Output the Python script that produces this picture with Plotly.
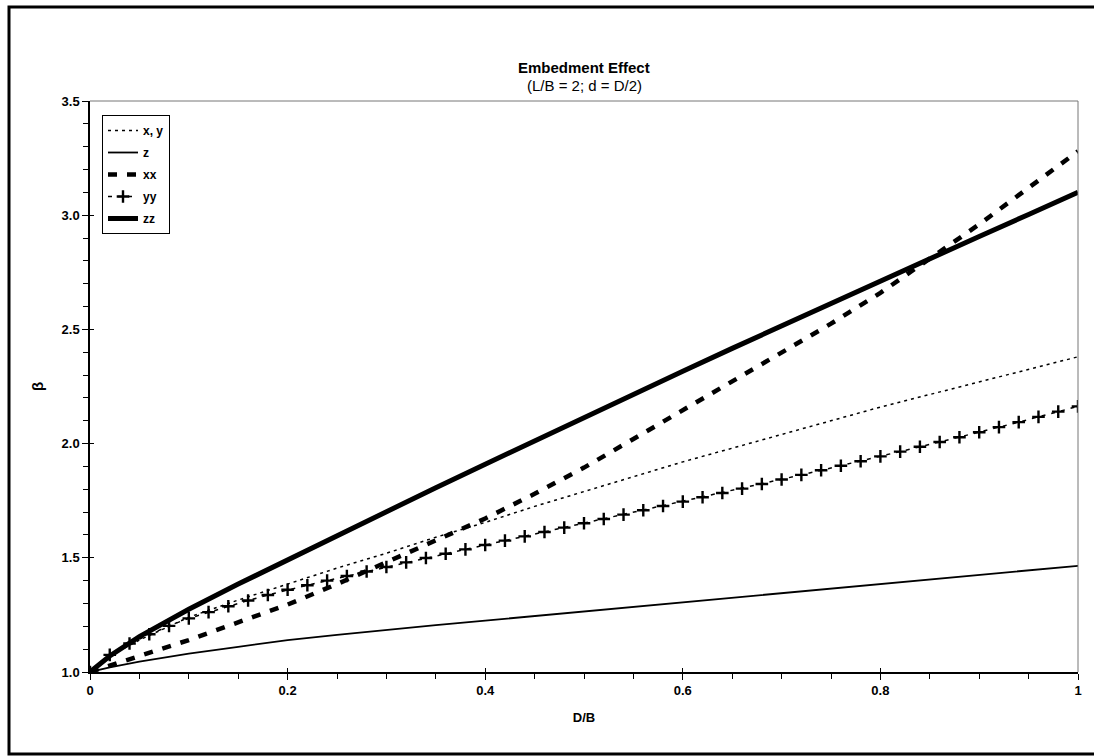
import plotly.graph_objects as go

# D/B grid for line series
x_line = [0, 0.02, 0.05, 0.1, 0.15, 0.2, 0.25, 0.3, 0.35, 0.4, 0.45, 0.5,
          0.55, 0.6, 0.65, 0.7, 0.75, 0.8, 0.85, 0.9, 0.95, 1.0]
beta_xy = [1.0, 1.07, 1.14, 1.24, 1.315, 1.385, 1.455, 1.52, 1.59, 1.655, 1.725, 1.79,
           1.855, 1.92, 1.98, 2.04, 2.10, 2.16, 2.215, 2.27, 2.325, 2.38]
beta_z = [1.0, 1.02, 1.045, 1.08, 1.11, 1.14, 1.163, 1.185, 1.205, 1.225, 1.245, 1.265,
          1.285, 1.305, 1.325, 1.345, 1.365, 1.385, 1.405, 1.425, 1.445, 1.465]
beta_xx = [1.0, 1.03, 1.07, 1.14, 1.215, 1.295, 1.385, 1.48, 1.575, 1.672, 1.78, 1.895,
           2.02, 2.145, 2.27, 2.395, 2.525, 2.66, 2.81, 2.96, 3.12, 3.28]
beta_zz = [1.0, 1.07, 1.155, 1.275, 1.385, 1.492, 1.598, 1.703, 1.807, 1.91, 2.013, 2.115,
           2.216, 2.317, 2.417, 2.516, 2.614, 2.712, 2.81, 2.907, 3.003, 3.10]

# yy series with markers every 0.02
x_yy = [0.00, 0.02, 0.04, 0.06, 0.08, 0.10, 0.12, 0.14, 0.16, 0.18, 0.20,
        0.22, 0.24, 0.26, 0.28, 0.30, 0.32, 0.34, 0.36, 0.38, 0.40,
        0.42, 0.44, 0.46, 0.48, 0.50, 0.52, 0.54, 0.56, 0.58, 0.60,
        0.62, 0.64, 0.66, 0.68, 0.70, 0.72, 0.74, 0.76, 0.78, 0.80,
        0.82, 0.84, 0.86, 0.88, 0.90, 0.92, 0.94, 0.96, 0.98, 1.00]
beta_yy = [1.000, 1.075, 1.125, 1.165, 1.202, 1.235, 1.262, 1.288, 1.313, 1.337, 1.360,
           1.380, 1.400, 1.420, 1.440, 1.460, 1.480, 1.499, 1.518, 1.537, 1.556,
           1.575, 1.594, 1.613, 1.632, 1.651, 1.670, 1.689, 1.708, 1.727, 1.746,
           1.765, 1.784, 1.803, 1.823, 1.843, 1.863, 1.883, 1.903, 1.923, 1.944,
           1.965, 1.986, 2.007, 2.028, 2.050, 2.072, 2.094, 2.117, 2.140, 2.163]

x_ticks = [0, 0.2, 0.4, 0.6, 0.8, 1]
x_ticktext = ["0", "0.2", "0.4", "0.6", "0.8", "1"]
y_ticks = [1.0, 1.5, 2.0, 2.5, 3.0, 3.5]

FONT = "Liberation Sans, Arial, sans-serif"

fig = go.Figure()
fig.add_trace(go.Scatter(x=x_line, y=beta_xy, mode="lines", name="x, y", legendgroup="a",
                         line=dict(color="black", width=1.5, dash="3px,4px")))
fig.add_trace(go.Scatter(x=x_line, y=beta_z, mode="lines", name="z", legendgroup="b",
                         line=dict(color="black", width=1.8)))
fig.add_trace(go.Scatter(x=x_line, y=beta_xx, mode="lines", name="xx", legendgroup="c",
                         line=dict(color="black", width=4.5, dash="9px,10px")))
fig.add_trace(go.Scatter(x=x_yy, y=beta_yy, mode="lines+markers", name="yy", legendgroup="d",
                         line=dict(color="black", width=1.5, dash="4px,6px"),
                         marker=dict(symbol="cross-thin", size=9,
                                     line=dict(color="black", width=2.4))))
fig.add_trace(go.Scatter(x=x_line, y=beta_zz, mode="lines", name="zz", legendgroup="e",
                         line=dict(color="black", width=5)))
# invisible trace to activate overlay axes for inside ticks
fig.add_trace(go.Scatter(x=[0], y=[1.0], xaxis="x2", yaxis="y2", mode="markers",
                         marker=dict(opacity=0), showlegend=False, hoverinfo="skip"))

L, R, T, B = 90, 16, 101, 84
W, H = 1094, 756
pw, ph = W - L - R, H - T - B

def px2x(p):
    return (p - L) / pw

def py2y(p):
    return (H - B - p) / ph

fig.update_layout(
    width=W, height=H,
    margin=dict(l=L, r=R, t=T, b=B),
    paper_bgcolor="white", plot_bgcolor="white",
    font=dict(family=FONT, color="black", size=12),
    showlegend=True,
    legend=dict(x=px2x(102), y=py2y(115), xanchor="left", yanchor="top",
                bgcolor="white", bordercolor="black", borderwidth=1,
                font=dict(family=FONT, size=12, weight="bold"),
                tracegroupgap=3),
    xaxis=dict(range=[0, 1], tickvals=x_ticks, ticktext=x_ticktext,
               showgrid=False, zeroline=False, showline=True,
               linecolor="black", linewidth=1.5,
               ticks="outside", ticklen=6, tickcolor="black", tickwidth=1,
               minor=dict(dtick=0.05, ticks="outside", ticklen=5, tickcolor="black"),
               tickfont=dict(family=FONT, size=13, weight="bold"),
               title=dict(text="<b>D/B</b>", font=dict(family=FONT, size=13), standoff=16)),
    yaxis=dict(range=[1.0, 3.5], tickvals=y_ticks, tickformat=".1f",
               showgrid=False, zeroline=False, showline=True,
               linecolor="black", linewidth=1.5,
               ticks="outside", ticklen=6, tickcolor="black", tickwidth=1,
               minor=dict(dtick=0.1, ticks="outside", ticklen=5, tickcolor="black"),
               tickfont=dict(family=FONT, size=13, weight="bold"),
               title=dict(text="<b>β</b>", font=dict(family=FONT, size=15), standoff=14)),
    xaxis2=dict(range=[0, 1], overlaying="x", anchor="y2", side="bottom",
                tickvals=x_ticks, showticklabels=False, ticks="inside", ticklen=4,
                tickcolor="black", showgrid=False, zeroline=False, showline=False),
    yaxis2=dict(range=[1.0, 3.5], overlaying="y", anchor="x2", side="left",
                tickvals=y_ticks, showticklabels=False, ticks="inside", ticklen=4,
                tickcolor="black", showgrid=False, zeroline=False, showline=False),
)

# Title and subtitle
fig.add_annotation(text="<b>Embedment Effect</b>", xref="paper", yref="paper",
                   x=0.5, y=py2y(68), xanchor="center", yanchor="middle",
                   showarrow=False, font=dict(family=FONT, size=15))
fig.add_annotation(text="(L/B = 2; d = D/2)", xref="paper", yref="paper",
                   x=0.5, y=py2y(86), xanchor="center", yanchor="middle",
                   showarrow=False, font=dict(family=FONT, size=15))

# thin top and right plot borders
fig.add_shape(type="line", xref="paper", yref="paper", x0=0, x1=1, y0=1, y1=1,
              line=dict(color="#777777", width=1))
fig.add_shape(type="line", xref="paper", yref="paper", x0=1, x1=1, y0=0, y1=1,
              line=dict(color="#777777", width=1))
# outer chart frame
fig.add_shape(type="rect", xref="paper", yref="paper",
              x0=px2x(9), x1=px2x(1100), y0=py2y(754), y1=py2y(7),
              line=dict(color="black", width=3), layer="below")

fig.write_html("out.html", config={"displayModeBar": False},
               post_script="document.body.style.margin='0px';document.body.style.overflow='hidden';")
